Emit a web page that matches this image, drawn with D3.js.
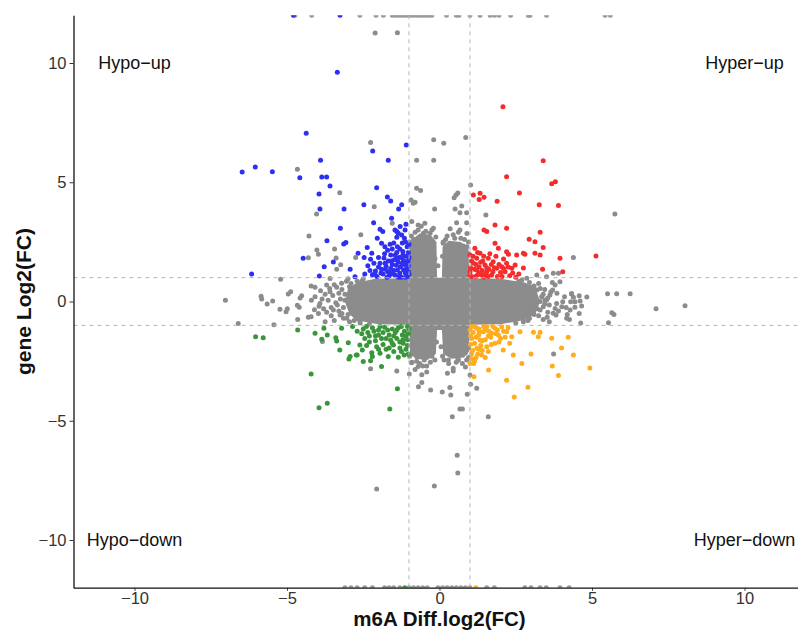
<!DOCTYPE html>
<html>
<head>
<meta charset="utf-8">
<script src="https://cdn.jsdelivr.net/npm/d3@7"></script>
<style>
  body { margin: 0; background: #fff; }
  text { font-family: "Liberation Sans", Arial, Helvetica, sans-serif; }
</style>
</head>
<body>
<svg id="chart" width="798" height="630"></svg>
<script>
// ---- data (x = m6A diff log2FC, y = gene log2FC) ----
var xTicks = [-10, -5, 0, 5, 10];
var yTicks = [-10, -5, 0, 5, 10];
var cutoffs = [-1, 1];

var quadText = ['Hypo\u2212up', 'Hyper\u2212up', 'Hypo\u2212down', 'Hyper\u2212down'];
var quadX = [-10, 10, -10, 10];
var quadY = [10, 10, -10, -10];

// outline of the dense grey cloud in the middle
var coreOutline = [
  [-3.1, 0.0], [-3.0, 0.55], [-2.7, 0.8], [-2.1, 0.95], [-1.0, 0.98],
  [-0.98, 2.2], [-0.9, 2.6], [-0.65, 2.85], [-0.3, 2.8], [-0.1, 2.5], [-0.08, 1.0],
  [0.08, 1.0], [0.1, 2.3], [0.3, 2.55], [0.7, 2.5], [0.95, 2.2], [0.98, 0.98],
  [2.0, 0.95], [2.8, 0.8], [3.15, 0.55], [3.3, 0.0], [3.15, -0.5], [2.8, -0.78], [2.0, -0.95],
  [0.98, -0.98], [0.97, -2.1], [0.8, -2.35], [0.4, -2.4], [0.12, -2.2], [0.08, -1.2],
  [-0.08, -1.2], [-0.12, -2.2], [-0.4, -2.45], [-0.8, -2.4], [-0.97, -2.1], [-0.98, -0.98],
  [-2.0, -0.95], [-2.7, -0.8], [-2.95, -0.55]
];

var greyPoints = [
  [-2.11, 11.26], [-1.38, 11.27], [-2.26, 6.67], [-0.19, 6.78], [0.14, 6.63], [0.86, 6.88],
  [-0.75, 5.92], [-0.19, 5.92], [-4.66, 5.54], [-3.27, 4.56], [-2.14, 3.97], [-0.75, 4.75],
  [-0.62, 4.65], [-0.93, 4.26], [-0.8, 4.16], [-0.16, 3.88], [0.51, 3.88], [0.48, 4.35],
  [0.54, 4.47], [0.6, 4.55], [1.02, 4.88], [-4.03, 3.67], [-4.28, 2.75], [-1.55, 3.28],
  [-2.58, 2.8], [-4.02, 2.16], [-3.97, 1.98], [-3.44, 2.2], [-2.75, 1.85], [-4.3, 1.83],
  [-3.39, 1.82], [-3.24, 1.54], [-3.37, 1.35], [-5.21, 0.93], [-3.59, 0.96], [-4.21, 0.65],
  [-4.08, 0.6], [-4.88, 0.41], [-4.96, 0.31], [-4.52, 0.24], [-4.57, 0.15], [-7.02, 0.05],
  [-5.85, 0.22], [-5.83, 0.1], [-5.47, 0.02], [-5.65, -0.1], [-5.23, -0.33], [-4.99, -0.3],
  [-5.03, -0.43], [-4.6, -0.24], [-4.66, -0.16], [-4.3, -0.66], [-4.21, -0.64], [-4.65, -0.75],
  [-6.6, -0.92], [-5.43, -0.97], [-3.97, -0.5], [-3.75, -0.85], [-3.92, -0.08], [-4.08, 0.2],
  [-3.59, 0.41], [-3.7, 0.69], [-3.37, 0.6], [-3.21, 0.76], [-3.48, -0.36], [-3.26, -0.57],
  [-3.04, -0.7], [-3.84, -1.68],
  [-2.26, -2.82], [-1.4, -2.91], [-0.99, -3.04], [-0.92, -2.57], [-0.7, -2.73], [-0.42, -2.7],
  [-0.58, -3.07], [-0.42, -2.96], [-0.69, -3.57], [-0.58, -3.4], [-0.29, -3.71], [0.09, -3.79],
  [0.37, -3.92], [0.34, -3.61], [0.26, -3.01], [0.45, -2.91], [0.29, -2.45], [0.62, -2.45],
  [0.89, -2.45], [0.91, -3.89], [1.02, -3.47], [1.0, -3.08], [1.22, -3.64], [0.67, -4.51],
  [0.75, -4.51], [0.42, -4.83], [1.6, -4.83], [0.58, -6.45], [0.6, -7.19], [-0.17, -7.74],
  [-2.06, -7.86],
  [-0.91, 3.35], [-0.7, 3.21], [-0.48, 3.28], [-0.53, 2.86], [-0.31, 2.86], [-0.2, 3.07],
  [-0.86, 4.12], [0.67, 3.72], [0.89, 3.72], [0.73, 4.0], [0.56, 3.3], [0.89, 3.3], [0.67, 3.0],
  [1.52, 3.63], [0.12, 2.44], [0.4, 2.37], [0.78, 2.33],
  [2.86, 0.97], [3.19, 1.11], [3.51, 1.04], [3.73, 1.18], [3.95, 0.83], [4.33, 0.34],
  [4.44, -0.01], [4.28, -0.36], [4.01, -0.22], [3.73, -0.49], [3.51, 0.06], [3.3, -0.36],
  [3.19, 0.48], [4.17, -0.7], [5.75, 3.67], [4.39, 1.85], [5.51, 0.33], [5.81, 0.33],
  [6.25, 0.33], [5.65, -0.47], [5.72, -0.54], [5.54, -0.89], [7.1, -0.3], [8.05, -0.18],
  [3.74, -2.2],
  [4.33, 0.31], [4.58, 0.24], [4.83, 0.19], [4.39, 0.18], [4.3, -0.01], [4.61, 0.02],
  [4.66, -0.19], [4.44, -0.24], [4.58, -0.5], [4.19, -0.54], [4.26, -0.75], [4.63, -0.9],
  [4.04, -0.01], [3.84, -0.08], [3.79, -0.29], [3.82, -0.57], [3.53, -0.66], [3.4, -0.22],
  [3.46, 0.06], [3.62, 0.27], [3.71, 0.48], [3.79, 0.69], [3.9, 1.18],
  [-3.1, 0.3], [-3.25, 0.1], [-3.15, -0.25], [-3.35, -0.15], [-3.0, -0.55], [-2.8, -0.8],
  [-2.95, 0.62], [-2.7, 0.85], [-2.5, 0.95], [-3.5, 0.25], [-3.65, 0.05], [-3.8, -0.3],
  [-3.55, -0.6], [-2.6, -0.9], [-2.3, -0.95],
  [-2.7, 0.6], [-2.9, 0.75], [-3.05, 0.85], [-3.2, 0.5], [-3.3, 0.35], [-3.45, 0.7], [-3.4, -0.05],
  [-3.55, -0.25], [-3.3, -0.4], [-3.15, -0.7], [-2.95, -0.85], [-2.75, -0.6], [-3.6, 0.55],
  [-3.75, 0.3], [-3.85, 0.1], [-3.95, -0.2], [-3.7, -0.45], [-4.1, -0.35], [-4.2, 0.05],
  [-3.9, 0.45], [-2.85, 0.2], [-2.95, -0.2], [-3.1, 0.05], [-3.2, -0.5], [-2.65, -0.75],
  [-2.55, 0.85], [-3.45, -0.8], [-3.0, 0.95],
  [-0.95, 2.3], [-0.85, 2.6], [-0.6, 2.55], [-0.35, 2.65], [-0.2, 2.4], [0.2, 2.6], [0.45, 2.8],
  [0.7, 2.65], [0.9, 2.3], [0.95, 2.0], [-0.15, 1.8], [0.1, 1.9], [-0.05, 1.5],
  [-0.98, 2.5], [-0.92, 2.75], [-0.8, 2.9], [-0.7, 3.0], [-0.45, 2.95], [-0.25, 3.0],
  [-0.12, 2.7], [0.12, 2.5], [0.25, 2.75], [0.5, 2.65], [0.62, 2.9], [0.82, 2.6], [0.95, 2.5],
  [0.9, 2.85], [-0.6, 3.15], [0.35, 3.05],
  [-0.9, -2.2], [-0.75, -2.5], [-0.5, -2.45], [-0.25, -2.3], [0.1, -2.3], [0.35, -2.2],
  [0.6, -2.4], [0.85, -2.15], [0.95, -1.95], [-0.1, -1.7], [0.05, -1.9],
  [-0.98, -2.3], [-0.9, -2.55], [-0.65, -2.6], [-0.55, -2.7], [-0.3, -2.55], [-0.15, -2.45],
  [0.15, -2.45], [0.3, -2.6], [0.55, -2.55], [0.75, -2.6], [0.95, -2.35], [0.85, -2.75],
  [-0.8, -2.85], [0.45, -2.8],
  [2.6, 0.85], [3.0, 0.6], [3.25, 0.75], [3.45, 0.5], [3.6, -0.15], [3.25, -0.6], [2.9, -0.8],
  [2.5, -0.9], [3.1, 0.2], [3.35, 0.2], [3.05, -0.4],
  [2.7, 0.9], [2.95, 0.8], [3.1, 0.65], [3.3, 0.55], [3.4, 0.3], [3.55, 0.15], [3.3, 0.0],
  [3.45, -0.1], [3.55, -0.45], [3.2, -0.3], [3.1, -0.55], [2.95, -0.7], [2.75, -0.85],
  [3.4, -0.75], [3.65, 0.4], [3.7, 0.8], [3.85, 0.35], [3.9, -0.4], [4.1, 0.2], [4.15, -0.25],
  [3.6, -0.85], [2.85, 0.4], [3.0, -0.15]
];

var bluePoints = [
  [-3.35, 9.61], [-4.37, 7.05], [-2.19, 6.31], [-1.09, 6.56], [-3.9, 5.92], [-1.68, 5.92],
  [-5.48, 5.44], [-6.47, 5.43], [-6.04, 5.64], [-4.58, 5.19], [-3.86, 5.22], [-3.7, 5.22],
  [-3.59, 4.84], [-3.95, 4.51], [-2.06, 4.77], [-1.71, 4.38], [-1.6, 4.21], [-2.48, 4.06],
  [-1.24, 4.06], [-1.34, 3.88], [-3.92, 3.88], [-3.13, 3.88], [-3.25, 3.07], [-3.69, 2.55],
  [-3.14, 2.41], [-3.07, 2.47], [-2.16, 3.3], [-1.57, 3.49], [-1.95, 3.03], [-1.86, 2.93],
  [-1.4, 2.93], [-2.04, 2.65], [-1.9, 2.44], [-1.79, 2.3], [-1.62, 2.4], [-2.37, 2.26],
  [-2.67, 2.02], [-2.22, 2.02], [-2.47, 1.84], [-4.47, 1.81], [-3.78, 1.46], [-3.48, 1.66],
  [-2.26, 1.77], [-2.93, 1.35], [-2.77, 1.04], [-3.94, 1.07], [-6.16, 1.15],
  [-1.46, 3.0], [-1.35, 2.86], [-1.4, 2.69], [-1.24, 2.79], [-1.29, 3.14], [-1.1, 3.24],
  [-1.13, 3.0],
  [-1.05, 1.05], [-1.12, 1.2], [-1.08, 1.38], [-1.15, 1.55], [-1.03, 1.7], [-1.1, 1.9],
  [-1.2, 2.1], [-1.06, 2.3], [-1.25, 1.02], [-1.3, 1.18], [-1.28, 1.45], [-1.35, 1.65],
  [-1.32, 1.85], [-1.4, 2.05], [-1.45, 1.1], [-1.5, 1.3], [-1.55, 1.55], [-1.48, 1.75],
  [-1.6, 1.95], [-1.65, 1.08], [-1.7, 1.25], [-1.75, 1.48], [-1.68, 1.7], [-1.85, 1.15],
  [-1.9, 1.35], [-1.95, 1.6], [-2.05, 1.05], [-2.1, 1.28], [-2.2, 1.12], [-1.22, 2.45],
  [-1.38, 2.3], [-1.55, 2.2], [-1.8, 2.0], [-1.15, 2.65], [-2.0, 1.85], [-2.35, 1.5],
  [-2.45, 1.15], [-1.02, 2.05], [-1.18, 1.72], [-1.42, 1.52], [-1.6, 1.38], [-1.02, 1.25],
  [-1.0, 1.15], [-1.02, 1.5], [-1.08, 1.62], [-1.12, 1.02], [-1.18, 1.32], [-1.22, 1.6],
  [-1.25, 1.85], [-1.2, 1.95], [-1.35, 1.02], [-1.38, 1.32], [-1.4, 1.78], [-1.45, 1.95],
  [-1.52, 1.15], [-1.58, 1.7], [-1.62, 1.2], [-1.72, 1.02], [-1.78, 1.35], [-1.78, 1.6],
  [-1.82, 1.82], [-1.92, 1.2], [-2.0, 1.45], [-2.12, 1.15], [-2.15, 1.6], [-2.28, 1.3],
  [-1.3, 2.2], [-1.5, 2.45], [-1.7, 2.15], [-1.0, 1.85], [-1.12, 2.5], [-1.0, 2.4]
];

var redPoints = [
  [2.08, 8.17], [1.11, 4.47], [1.33, 4.54], [1.46, 4.37], [1.3, 4.28], [2.2, 5.23], [2.62, 4.55],
  [1.89, 4.2], [3.27, 4.06], [3.4, 5.9], [3.68, 4.94], [3.8, 5.02], [3.9, 4.02],
  [1.46, 3.0], [1.55, 2.93], [1.82, 3.21], [2.2, 3.07], [3.3, 2.9], [2.94, 2.61], [3.13, 2.51],
  [3.4, 2.26], [2.8, 1.98], [3.13, 2.02], [1.82, 2.44], [1.93, 2.23], [2.2, 2.09], [2.26, 1.98],
  [2.53, 1.95], [2.75, 2.02], [3.95, 1.81], [3.38, 1.35], [4.04, 1.25], [3.3, 1.95], [5.13, 1.91],
  [2.48, 1.53], [2.2, 1.6], [2.04, 1.46], [1.76, 1.67], [1.6, 1.81], [1.33, 2.02], [1.16, 2.23],
  [1.11, 1.6], [1.22, 1.32], [1.38, 1.11], [1.55, 1.25], [1.71, 1.11], [1.88, 1.39], [2.15, 1.25],
  [2.37, 1.39], [1.49, 1.53], [1.22, 1.81], [1.0, 1.25],
  [1.05, 1.05], [1.3, 1.45], [1.45, 1.02], [1.62, 1.35], [1.9, 1.05], [2.3, 1.08], [2.6, 1.15],
  [2.75, 1.4], [1.85, 1.9], [2.1, 1.78], [1.1, 1.9], [1.25, 1.12], [1.7, 1.55], [2.0, 1.22],
  [1.42, 1.7],
  [1.0, 1.1], [1.02, 1.42], [1.05, 1.7], [1.15, 1.35], [1.18, 1.05], [1.2, 1.55], [1.3, 1.2],
  [1.35, 1.65], [1.4, 1.3], [1.5, 1.15], [1.55, 1.42], [1.6, 1.05], [1.75, 1.25], [1.8, 1.42],
  [1.95, 1.55], [2.05, 1.05], [2.1, 1.38], [2.25, 1.45], [2.4, 1.2], [1.0, 1.95], [1.25, 2.05],
  [1.45, 1.9], [1.65, 2.0], [2.5, 1.02]
];

var greenPoints = [
  [-6.03, -1.48], [-5.78, -1.52], [-4.65, -1.19], [-4.08, -1.33], [-3.86, -1.58], [-3.68, -1.4],
  [-3.79, -1.12], [-3.4, -1.52], [-3.21, -1.12], [-2.93, -2.31], [-2.7, -2.24], [-2.53, -2.03],
  [-2.39, -1.85], [-2.2, -2.31], [-4.21, -3.04], [-3.95, -4.45], [-3.68, -4.27], [-1.63, -4.51],
  [-1.38, -3.66],
  [-3.27, -2.03], [-2.97, -2.41], [-2.73, -2.24], [-2.5, -2.52], [-2.26, -2.48], [-1.9, -2.73],
  [-2.22, -2.15], [-1.95, -2.17], [-1.68, -2.31], [-1.35, -2.34], [-1.16, -2.24], [-1.51, -1.82],
  [-1.19, -1.75], [-2.06, -1.9], [-2.61, -1.82], [-2.99, -1.73], [-3.37, -1.66],
  [-1.05, -1.05], [-1.15, -1.25], [-1.1, -1.45], [-1.2, -1.6], [-1.35, -1.1], [-1.45, -1.3],
  [-1.4, -1.55], [-1.55, -1.15], [-1.65, -1.4], [-1.6, -1.62], [-1.8, -1.08], [-1.85, -1.3],
  [-1.9, -1.55], [-2.0, -1.2], [-2.1, -1.45], [-2.2, -1.1], [-2.35, -1.3], [-2.5, -1.15],
  [-2.45, -1.55], [-2.7, -1.25], [-1.3, -1.95], [-1.75, -2.0], [-1.05, -1.85], [-2.3, -1.7],
  [-1.5, -2.1], [-2.85, -1.05],
  [-1.0, -1.15], [-1.02, -1.35], [-1.05, -1.6], [-1.1, -2.0], [-1.25, -1.05], [-1.22, -1.4],
  [-1.3, -1.7], [-1.4, -1.2], [-1.5, -1.45], [-1.55, -1.75], [-1.7, -1.2], [-1.75, -1.55],
  [-1.85, -1.8], [-1.95, -1.05], [-2.0, -1.4], [-2.15, -1.25], [-2.1, -1.65], [-2.3, -1.45],
  [-2.4, -1.05], [-2.55, -1.35], [-1.25, -2.1], [-1.65, -1.95], [-2.0, -2.0], [-1.02, -2.2]
];

var orangePoints = [
  [1.22, -1.12], [1.44, -1.27], [1.55, -1.06], [1.82, -1.12], [2.04, -1.06], [2.2, -1.27],
  [1.93, -1.4], [1.71, -1.33], [2.37, -1.48], [2.64, -1.27], [1.33, -1.61], [1.55, -1.9],
  [1.82, -1.75], [2.09, -2.03], [2.42, -2.24], [1.22, -1.96], [1.38, -2.24], [3.08, -1.29],
  [3.24, -1.48], [3.68, -1.54], [4.22, -1.5], [4.39, -2.24], [3.3, -1.29], [4.93, -2.79],
  [1.13, -3.15], [1.61, -2.87], [2.45, -4.0], [2.2, -3.3], [2.7, -2.6], [3.0, -2.2],
  [2.9, -3.6], [3.9, -3.1], [3.7, -2.7], [4.0, -1.95],
  [1.05, -1.05], [1.1, -1.3], [1.05, -1.55], [1.15, -1.75], [1.08, -2.05], [1.3, -1.15],
  [1.28, -1.42], [1.35, -1.85], [1.45, -1.05], [1.5, -1.6], [1.62, -1.25], [1.68, -1.5],
  [1.9, -1.2], [2.0, -1.55], [2.25, -1.1], [1.25, -2.2], [1.05, -2.4], [1.6, -2.1],
  [2.3, -1.75], [1.12, -2.6],
  [1.0, -1.2], [1.02, -1.45], [1.02, -1.8], [1.05, -2.2], [1.15, -1.05], [1.2, -1.5],
  [1.2, -2.35], [1.3, -1.3], [1.4, -1.65], [1.4, -2.05], [1.5, -1.2], [1.6, -1.45],
  [1.7, -1.8], [1.75, -1.05], [1.85, -1.35], [1.95, -1.7], [2.1, -1.25], [2.15, -1.5],
  [1.3, -2.0], [1.5, -2.35], [1.15, -2.5], [1.0, -2.6]
];

// genes whose fold change is squished onto the +12 / -12 limits
var topCapGrey = [-4.74, -4.19, -2.61, -2.08, -1.84, -1.55, -1.45, -1.35, -1.25, -1.15, -1.05,
  -0.95, -0.85, -0.75, -0.65, -0.55, -0.45, -0.35, -0.25, 0.23, 0.55, 0.64, 1.0, 1.33, 1.66,
  1.8, 1.95, 2.33, 2.91, 2.97, 3.51, 5.43, 5.6];
var topCapBlue = [-4.79, -3.26];
var bottomCapGrey = [-3.1, -2.9, -2.7, -2.45, -2.2, -1.8, -1.65, -1.5, -1.3, -1.0, -0.85, -0.7,
  -0.55, -0.4, -0.05, 0.1, 0.25, 0.4, 0.55, 0.7, 0.85, 1.0, 1.55, 1.8, 2.8, 3.0, 3.3, 3.5,
  3.95, 4.25];
var bottomCapGreen = [-1.14];
var bottomCapOrange = [1.19];

// ---- drawing ----
var svg = d3.select('#chart');
var x = d3.scaleLinear().domain([-12, 12]).range([73.5, 805.5]);
var y = d3.scaleLinear().domain([-12, 12]).range([587.7, 15.3]);

svg.append('clipPath').attr('id', 'panel')
  .append('rect')
  .attr('x', x(-12)).attr('y', y(12))
  .attr('width', x(12) - x(-12)).attr('height', y(-12) - y(12));

var plot = svg.append('g').attr('clip-path', 'url(#panel)');

// dense grey cloud
plot.append('path')
  .datum(coreOutline)
  .attr('d', d3.line()
    .x(function (d) { return x(d[0]); })
    .y(function (d) { return y(d[1]); })
    .curve(d3.curveLinearClosed))
  .attr('fill', '#8c8c8c');

function dots(data, color) {
  plot.append('g').selectAll('circle')
    .data(data).enter()
    .append('circle')
    .attr('cx', function (d) { return x(d[0]); })
    .attr('cy', function (d) { return y(d[1]); })
    .attr('r', 2.5)
    .attr('fill', color);
}

function capped(xs, yv) {
  return xs.map(function (v) { return [v, yv]; });
}

dots(greyPoints, '#8c8c8c');
dots(capped(topCapGrey, 12), '#999999');
dots(capped(bottomCapGrey, -12), '#999999');
dots(bluePoints, '#2f2ff2');
dots(capped(topCapBlue, 12), '#2f2ff2');
dots(redPoints, '#f52c2c');
dots(greenPoints, '#3a963a');
dots(capped(bottomCapGreen, -12), '#3a963a');
dots(orangePoints, '#ffad1f');
dots(capped(bottomCapOrange, -12), '#ffad1f');

// cutoff lines
plot.selectAll('.vline')
  .data(cutoffs).enter()
  .append('line')
  .attr('class', 'vline')
  .attr('x1', function (d) { return x(d); }).attr('x2', function (d) { return x(d); })
  .attr('y1', y(12)).attr('y2', y(-12))
  .attr('stroke', '#b5b5b5').attr('stroke-width', 1).attr('stroke-dasharray', '4,4');

plot.selectAll('.hline')
  .data(cutoffs).enter()
  .append('line')
  .attr('class', 'hline')
  .attr('y1', function (d) { return y(d); }).attr('y2', function (d) { return y(d); })
  .attr('x1', x(-12)).attr('x2', x(12))
  .attr('stroke', '#b5b5b5').attr('stroke-width', 1).attr('stroke-dasharray', '4,4');

// quadrant labels
svg.selectAll('.quad')
  .data(quadText).enter()
  .append('text')
  .attr('class', 'quad')
  .attr('x', function (d, i) { return x(quadX[i]); })
  .attr('y', function (d, i) { return y(quadY[i]) + 6; })
  .attr('text-anchor', 'middle')
  .attr('font-size', '18px')
  .attr('fill', '#111')
  .text(function (d) { return d; });

// axes
var xAxis = svg.append('g')
  .attr('transform', 'translate(0,' + y(-12) + ')')
  .call(d3.axisBottom(x).tickValues(xTicks).tickSize(3).tickSizeOuter(0).tickPadding(1.5));
var yAxis = svg.append('g')
  .attr('transform', 'translate(' + x(-12) + ',0)')
  .call(d3.axisLeft(y).tickValues(yTicks).tickSize(4).tickSizeOuter(0).tickPadding(3));

[xAxis, yAxis].forEach(function (g) {
  g.select('.domain').attr('stroke', '#111').attr('stroke-width', 1.3);
  g.selectAll('.tick line').attr('stroke', '#333');
  g.selectAll('.tick text')
    .attr('font-size', '16.5px')
    .attr('font-family', '"Liberation Sans", Arial, sans-serif')
    .attr('fill', '#333');
});

// axis titles
svg.append('text')
  .attr('x', x(0)).attr('y', 625.5)
  .attr('text-anchor', 'middle')
  .attr('font-size', '20.5px').attr('font-weight', 'bold')
  .attr('fill', '#111')
  .text('m6A Diff.log2(FC)');

svg.append('text')
  .attr('transform', 'translate(31,' + y(0) + ') rotate(-90)')
  .attr('text-anchor', 'middle')
  .attr('font-size', '21px').attr('font-weight', 'bold')
  .attr('fill', '#111')
  .text('gene Log2(FC)');
</script>
</body>
</html>
